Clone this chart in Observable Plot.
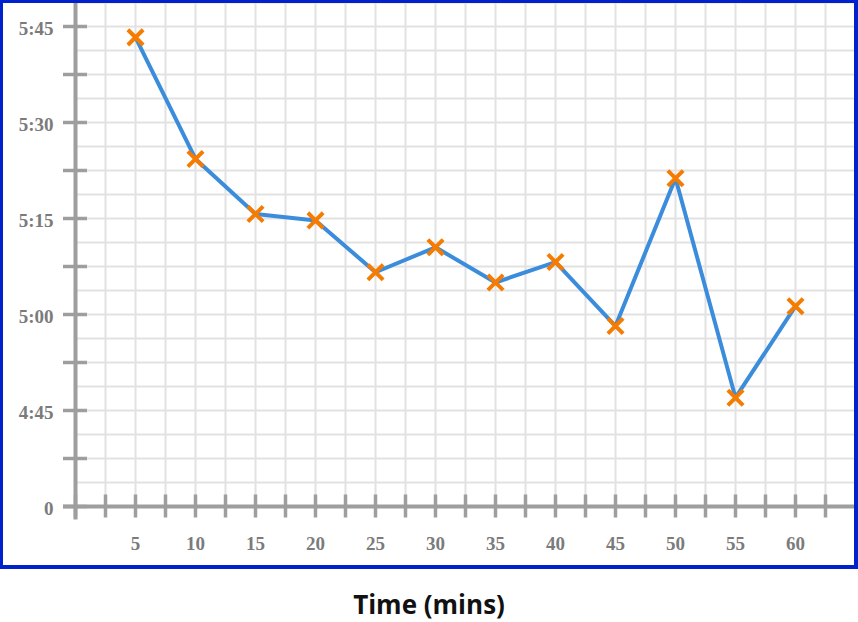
<!DOCTYPE html>
<html>
<head>
<meta charset="utf-8">
<script src="https://cdn.jsdelivr.net/npm/d3@7"></script>
<script src="https://cdn.jsdelivr.net/npm/@observablehq/plot@0.6"></script>
<style>
  html, body { margin: 0; padding: 0; background: #fff; }
  #wrap { position: relative; width: 858px; height: 622px; }
  #chart { position: absolute; left: 0; top: 0; width: 858px; height: 570px; }
  #border { position: absolute; left: 0; top: 0; width: 858px; height: 569px; box-sizing: border-box;
            border: 3.5px solid #0022cc; border-bottom-width: 4px; border-right-width: 4.5px; pointer-events: none; }
  #title { position: absolute; left: 0; top: 591px; width: 858px; text-align: center; line-height: 26px;
           font-family: "Open Sans", Lato, sans-serif; font-weight: 700; font-size: 26px; color: #111; }
</style>
</head>
<body>
<div id="wrap">
  <div id="chart"></div>
  <div id="border"></div>
  <div id="title">Time (mins)</div>
</div>
<script>
// Time (minutes) on x; lap time in seconds on y (shown as m:ss)
const minutes = [5, 10, 15, 20, 25, 30, 35, 40, 45, 50, 55, 60];
const timesSec = [343.3, 324.3, 315.7, 314.7, 306.6, 310.5, 305.0, 308.2, 298.2, 321.3, 287.0, 301.3];

// axis ticks & labels
const xTickVals = [0, 2.5, 5, 7.5, 10, 12.5, 15, 17.5, 20, 22.5, 25, 27.5, 30, 32.5, 35, 37.5, 40, 42.5, 45, 47.5, 50, 52.5, 55, 57.5, 60, 62.5];
const xLabelVals = [5, 10, 15, 20, 25, 30, 35, 40, 45, 50, 55, 60];
const yTickVals = [270, 277.5, 285, 292.5, 300, 307.5, 315, 322.5, 330, 337.5, 345];
const yLabelVals = [270, 285, 300, 315, 330, 345];
const yLabelText = ["0", "4:45", "5:00", "5:15", "5:30", "5:45"];

const data = minutes.map((m, i) => ({minute: m, sec: timesSec[i]}));
const xGrid = d3.range(2.5, 65.01, 2.5);
const yGrid = d3.range(273.75, 348.8, 3.75);

const axisColor = "#9e9e9e";
const labelColor = "#7b7b7b";
const labelFont = {fontSize: 19, fontWeight: "bold", fill: labelColor, fontFamily: "'Liberation Serif', 'Times New Roman', serif"};

const chart = Plot.plot({
  width: 858,
  height: 570,
  marginLeft: 75,
  marginRight: 3,
  marginTop: 2,
  marginBottom: 64,
  x: {domain: [0, 65], axis: null},
  y: {domain: [270, 348.75], axis: null},
  style: {background: "transparent", overflow: "visible"},
  marks: [
    Plot.gridX(xGrid, {stroke: "#e2e2e2", strokeOpacity: 1, strokeWidth: 2}),
    Plot.gridY(yGrid, {stroke: "#e2e2e2", strokeOpacity: 1, strokeWidth: 2}),
    // axis lines
    Plot.ruleX([0], {y1: 267.9, y2: 349.5, stroke: axisColor, strokeWidth: 4}),
    Plot.ruleY([270], {x1: -1, x2: 65.5, stroke: axisColor, strokeWidth: 4}),
    // ticks crossing the axes
    Plot.ruleY(yTickVals, {x1: -1, x2: 1, stroke: axisColor, strokeWidth: 3.5}),
    Plot.ruleX(xTickVals, {y1: 268.2, y2: 271.8, stroke: axisColor, strokeWidth: 3.5}),
    // labels
    Plot.text(yLabelVals, {x: 0, y: d => d, text: (d, i) => yLabelText[i], textAnchor: "end", dx: -22, dy: 2, ...labelFont}),
    Plot.text(xLabelVals, {x: d => d, y: 270, text: d => String(d), dy: 37, ...labelFont}),
    // data
    Plot.line(data, {x: "minute", y: "sec", stroke: "#3b8ddc", strokeWidth: 4}),
    Plot.dot(data, {x: "minute", y: "sec", symbol: "times", r: 7, stroke: "#f57c00", strokeWidth: 4})
  ]
});
document.getElementById("chart").appendChild(chart);
</script>
</body>
</html>
